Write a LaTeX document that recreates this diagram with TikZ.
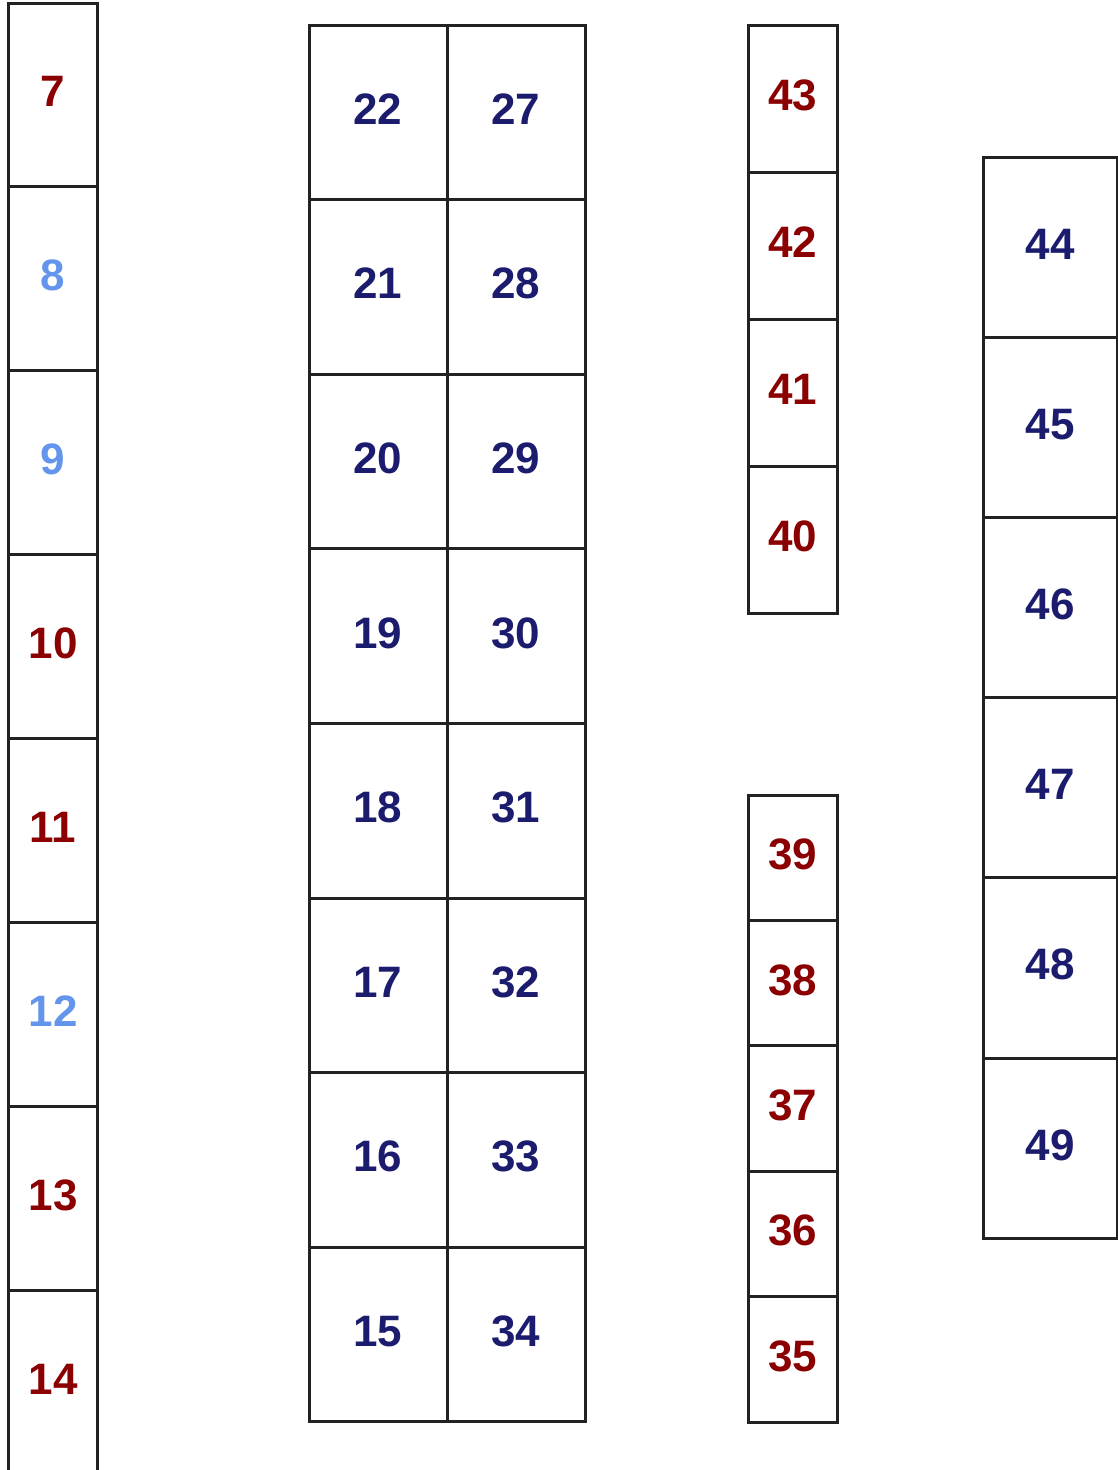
\documentclass[tikz,border=0pt]{standalone}
\usepackage{fontspec}
\setmainfont{Liberation Sans}
\definecolor{lc}{HTML}{222222}
\definecolor{rd}{HTML}{8B0000}
\definecolor{bl}{HTML}{6495ED}
\definecolor{nv}{HTML}{1C1C6E}
\begin{document}
\begin{tikzpicture}[x=1pt,y=-1pt,
  cell/.style={draw=lc, line width=3pt, rectangle, inner sep=0pt, outer sep=0pt,
    text height=24pt, text depth=0pt,
    font=\fontsize{44}{50}\selectfont\bfseries},
  ca/.style={cell, minimum width=88.8pt, minimum height=183.9pt},
  cb/.style={cell, minimum width=138pt, minimum height=174.6pt},
  cc/.style={cell, minimum width=89pt, minimum height=147pt},
  cd/.style={cell, minimum width=89pt, minimum height=125.4pt},
  ce/.style={cell, minimum width=134pt, minimum height=180.2pt}]
\useasboundingbox (0,0) rectangle (1118,1470);
\clip (0,0) rectangle (1118,1470);
% column 1
\foreach \n/\c [count=\i from 0] in {7/rd,8/bl,9/bl,10/rd,11/rd,12/bl,13/rd,14/rd}
  \node[ca, text=\c] (a\n) at (53.1, {3+183.9*\i+91.95}) {\n};
% column 2
\foreach \n/\m [count=\i from 0] in {22/27,21/28,20/29,19/30,18/31,17/32,16/33,15/34} {
  \node[cb, text=nv] (b\n) at (378, {25+174.6*\i+87.3}) {\n};
  \node[cb, text=nv] (b\m) at (516, {25+174.6*\i+87.3}) {\m};
}
% column 3
\foreach \n [count=\i from 0] in {43,42,41,40}
  \node[cc, text=rd] (c\n) at (792.5, {25+147*\i+73.5}) {\n};
% column 4
\foreach \n [count=\i from 0] in {39,38,37,36,35}
  \node[cd, text=rd] (d\n) at (792.5, {795+125.4*\i+62.7}) {\n};
% column 5
\foreach \n [count=\i from 0] in {44,45,46,47,48,49}
  \node[ce, text=nv] (e\n) at (1050, {157+180.2*\i+90.1}) {\n};
\end{tikzpicture}
\end{document}
